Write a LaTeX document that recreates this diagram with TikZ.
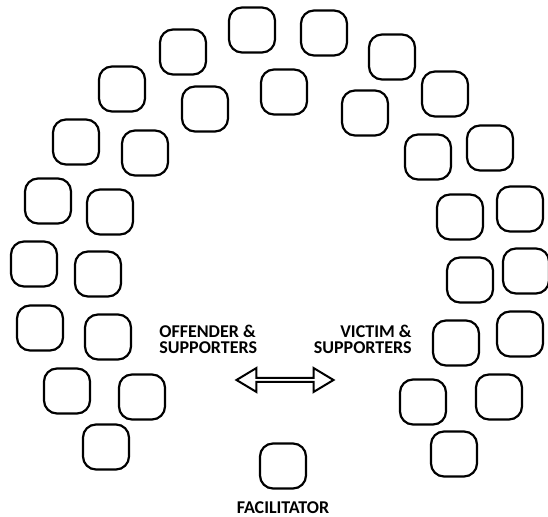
\documentclass[tikz,border=0pt]{standalone}
\usepackage{fontspec}
\setmainfont{Carlito}
\usetikzlibrary{positioning,shapes.arrows}

\begin{document}
\begin{tikzpicture}[x=0.5pt, y=-0.5pt,
		chair/.style={draw, line width=1.1pt, rounded corners=6.5pt, minimum width=23pt, minimum height=22.5pt, inner sep=0pt},
		group/.style={font=\bfseries\fontsize{9}{8}\selectfont, inner sep=0pt},
		swap/.style={draw, double arrow, line width=1pt, fill=white, inner sep=0pt, minimum width=12pt, minimum height=48.5pt, double arrow head extend=2.5pt, double arrow tip angle=62}]
	
	\useasboundingbox (0,0) rectangle (548,517);
	
	% seats of the offender side
	\foreach \x/\y [count=\i] in {252/30, 183/52, 122/89, 205/109, 284/92, 76/142, 145/153, 48/201,
			110/212, 34/264, 98/274, 40/328, 108/337, 67/391, 142/397, 106/447}
		\node[chair] (off\i) at (\x,\y) {};
	
	% seats of the victim side
	\foreach \x/\y [count=\i] in {324/33, 392/57, 365/113, 445/94, 428/157, 490/148, 460/217, 520/209,
			470/280, 526/271, 456/343, 520/334, 423/402, 499/397, 454/454}
		\node[chair] (vic\i) at (\x,\y) {};
	
	\node[chair] (fac) at (283,466) {};
	\node[group, below=6pt of fac] (faclabel) {FACILITATOR};
	
	\node[group, align=left, anchor=west] (offlabel) at (159,339) {OFFENDER \&\\SUPPORTERS};
	\node[group, align=right, anchor=east] (viclabel) at (412,339) {VICTIM \&\\SUPPORTERS};
	
	\node[swap] (talk) at (285,380) {};
	
\end{tikzpicture}
\end{document}
